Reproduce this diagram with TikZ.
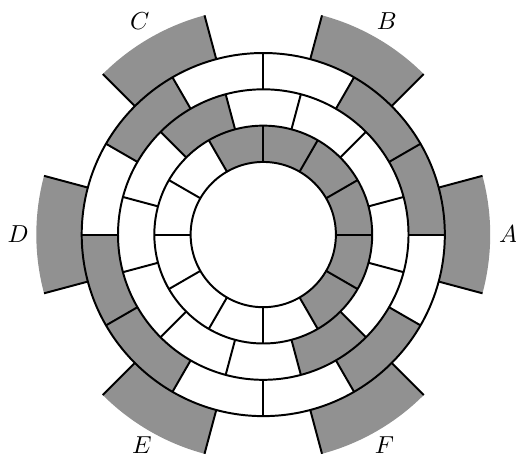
\documentclass[tikz,border=0pt]{standalone}
\usepackage{tikz}
\usepackage{amsmath}
\definecolor{ringgray}{RGB}{145,145,145}
% shaded cell of a ring: start angle, end angle, inner radius, outer radius
\newcommand{\ringcell}[4]{%
  \fill [ringgray] (#1:#3) arc [start angle=#1, end angle=#2, radius=#3]
    -- (#2:#4) arc [start angle=#2, end angle=#1, radius=#4] -- cycle;}

\begin{document}
\begin{tikzpicture}[scale=0.52, thick]
    \useasboundingbox (-7.25,-6.16) rectangle (6.96,6.46);

    % outer blocks
    \foreach \a in {0,60,...,300}
      \fill [ringgray] ({\a-15}:5) arc [start angle=\a-15, end angle=\a+15, radius=5]
        -- ({\a+15}:6.25) arc [start angle=\a+15, end angle=\a-15, radius=6.25] -- cycle;

    % shaded cells
    \ringcell{-60}{120}{2}{3}
    \ringcell{105}{135}{3}{4}
    \ringcell{-75}{-45}{3}{4}
    \ringcell{0}{60}{4}{5}
    \ringcell{120}{150}{4}{5}
    \ringcell{180}{240}{4}{5}
    \ringcell{300}{330}{4}{5}

    \foreach \r in {2,3,4,5}
      \draw (0,0) circle [radius=\r];

    \foreach \a in {0,30,...,330} {
      \draw (\a:2) -- (\a:3);
      \draw (\a:4) -- (\a:5);
      \draw ({\a+15}:3) -- ({\a+15}:4);
      \draw ({\a+15}:5) -- ({\a+15}:6.25);
    }

    \node (labA) at (0:6.75) {$A$};
    \node (labB) at (60:6.8) {$B$};
    \node (labC) at (120:6.8) {$C$};
    \node (labD) at (180:6.75) {$D$};
    \node (labE) at (240:6.68) {$E$};
    \node (labF) at (300:6.68) {$F$};
  \end{tikzpicture}
\end{document}
